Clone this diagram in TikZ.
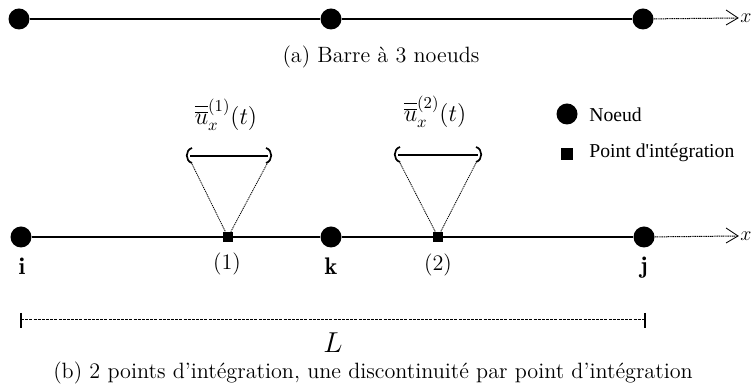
\documentclass[tikz,border=0pt]{standalone}
\usepackage{fontspec}
\newfontfamily\legendfont{Liberation Serif}
\usetikzlibrary{arrows.meta}
\newcommand{\dbar}{\overline{\rule{0pt}{9.6pt}\overline{u}}}
\tikzset{
  x=0.6pt,y=-0.6pt,
  noeud/.style={circle,fill=black,inner sep=0pt,minimum size=12.6pt},
  pint/.style={rectangle,fill=black,inner sep=0pt,minimum size=6pt},
  barre/.style={line width=1.3pt},
  fin/.style={line width=0.5pt,dash pattern=on 0.7pt off 0.5pt},
  axe/.style={line width=0.6pt,dash pattern=on 0.7pt off 0.4pt},
  tige/.style={line width=1.3pt},
  lab/.style={inner sep=0pt,font=\fontsize{13.3}{16}\selectfont},
  labx/.style={inner sep=0pt,font=\fontsize{12}{14}\selectfont},
  labi/.style={inner sep=0pt,font=\fontsize{14.4}{17}\selectfont},
  labc/.style={inner sep=0pt,font=\fontsize{14.4}{17}\selectfont},
  leg/.style={inner sep=0pt,anchor=west,font=\legendfont\fontsize{11.8}{14}\selectfont},
}
\begin{document}
\begin{tikzpicture}
\useasboundingbox (0,0) rectangle (751,387);
% top bar
\node[noeud] (a1) at (19,19) {};
\node[noeud] (a2) at (331,19) {};
\node[noeud] (a3) at (643,19) {};
\draw[barre] (a1) -- (a2);
\draw[barre] (a2) -- (a3);
\node[labx] (ax) at (746,18) {$x$};
\coordinate (ae) at (738,18);
\draw[axe] (a3) -- (ae);
\draw[line width=0.5pt] (726,10) -- (ae) -- (726,25);
\node[lab] (capa) at (381,57) {(a) Barre à 3 noeuds};
% bottom bar
\node[noeud] (i) at (21,237) {};
\node[noeud] (k) at (331,237) {};
\node[noeud] (j) at (644,237) {};
\node[pint] (p1) at (228,237) {};
\node[pint] (p2) at (438,237) {};
\draw[barre] (i) -- (p1);
\draw[barre] (p1) -- (k);
\draw[barre] (k) -- (p2);
\draw[barre] (p2) -- (j);
\node[labx] (bx) at (746,236) {$x$};
\coordinate (be) at (738,236);
\draw[axe] (j) -- (be);
\draw[line width=0.5pt] (726,228) -- (be) -- (726,243);
\node[labi] at (22,266) {$\mathbf{i}$};
\node[labi] at (331,266) {$\mathbf{k}$};
\node[labi] at (644,268) {$\mathbf{j}$};
\node[lab] at (227,264) {(1)};
\node[lab] at (438,265) {(2)};
% discontinuities
\coordinate (d1l) at (190,156);
\coordinate (d1r) at (268,156);
\coordinate (d2l) at (398,155);
\coordinate (d2r) at (478,155);
\draw[tige] (d1l) -- (d1r);
\draw[tige] (d2l) -- (d2r);
\draw[line width=1pt] (192,148) .. controls (185,150) and (185,161) .. (192,163);
\draw[line width=1pt] (266,148) .. controls (273,150) and (273,161) .. (266,163);
\draw[line width=1pt] (400,147) .. controls (393,149) and (393,160) .. (400,162);
\draw[line width=1pt] (476,147) .. controls (483,149) and (483,160) .. (476,162);
\draw[fin] (191,162) -- (p1);
\draw[fin] (268,162) -- (p1);
\draw[fin] (399,161) -- (p2);
\draw[fin] (477,161) -- (p2);
\node[labc] at (226,115) {$\dbar_x^{(1)}(t)$};
\node[labc] at (435,112) {$\dbar_x^{(2)}(t)$};
% legend
\node[noeud] (ln) at (567,114) {};
\node[pint,minimum size=7pt] (lp) at (567,154) {};
\node[leg] at (589,115) {Noeud};
\node[leg] at (589,153) {Point d'intégration};
% dimension
\coordinate (dl) at (21,320);
\coordinate (dr) at (645,320);
\draw[line width=0.6pt,dash pattern=on 1.8pt off 0.7pt] (dl) -- (dr);
\draw[line width=0.8pt] (21,313) -- (21,328);
\draw[line width=0.8pt] (645,313) -- (645,328);
\node[lab,font=\fontsize{17.28}{20}\selectfont] at (333,343) {$L$};
\node[lab] at (373,373) {(b) 2 points d’intégration, une discontinuité par point d’intégration};
\end{tikzpicture}
\end{document}
